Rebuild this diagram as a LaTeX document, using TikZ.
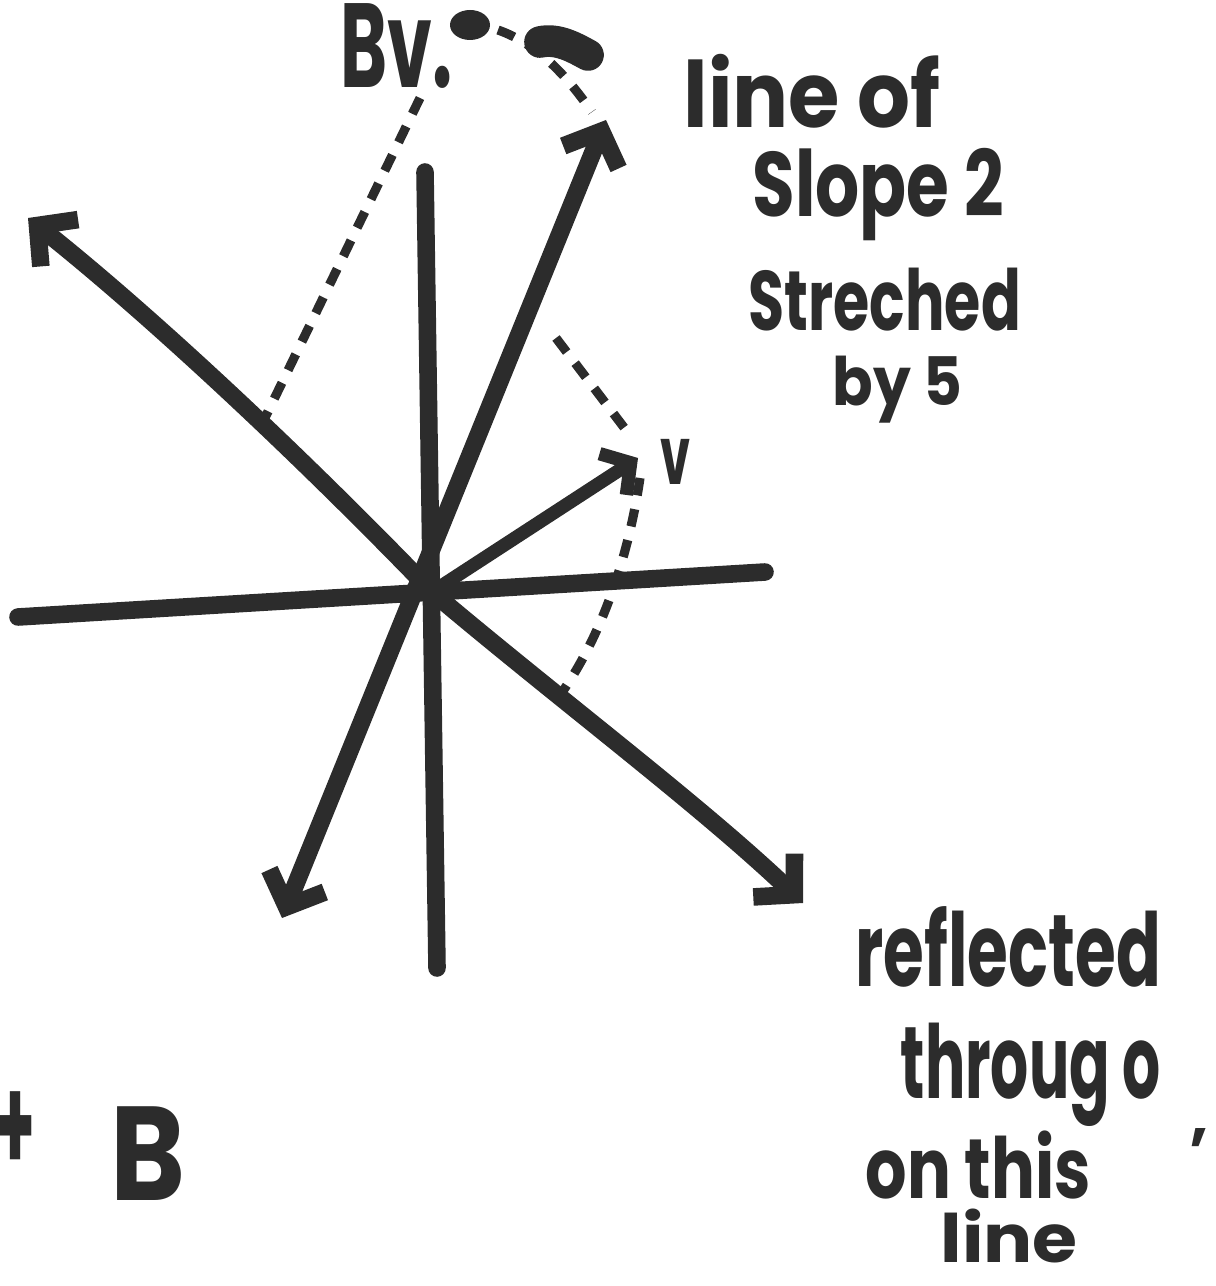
\documentclass[tikz,border=0pt]{standalone}
\usepackage{fontspec}
\setmainfont{Poppins}
\usetikzlibrary{arrows.meta}
\definecolor{markerink}{HTML}{2C2C2C}
\newcommand{\handw}[2]{\resizebox{#1}{\height}{#2}}

\begin{document}
\begin{tikzpicture}[
  x=0.01cm,
  y=-0.01cm,
  every node/.style={markerink, inner sep=0pt, anchor=base west,
                     font=\fontsize{26}{30}\selectfont\bfseries},
  stroke/.style={markerink, line width=5pt, line cap=round},
  twoway/.style={stroke, {Straight Barb[length=8pt, width=17pt]}-{Straight Barb[length=8pt, width=17pt]}},
  oneway/.style={stroke, -{Straight Barb[length=6pt, width=14pt]}},
  dots/.style={markerink, line width=2.6pt, dash pattern=on 5pt off 4pt},
  bigword/.style={font=\fontsize{34}{40}\selectfont\bfseries},
  midword/.style={font=\fontsize{24}{28}\selectfont\bfseries},
  smallword/.style={font=\fontsize{19}{22}\selectfont\bfseries}
]
  \useasboundingbox (0,0) rectangle (1215,1286);

  % ---- points ----
  \coordinate (O)     at (432,592);
  \coordinate (xl)    at (18,617);
  \coordinate (xr)    at (765,572);
  \coordinate (yt)    at (425,172);
  \coordinate (yb)    at (437,968);
  \coordinate (sl)    at (282,918);
  \coordinate (st)    at (606,120);
  \coordinate (rl)    at (28,218);
  \coordinate (rr)    at (803,903);
  \coordinate (vt)    at (638,458);
  \coordinate (bvft)  at (420,98);
  \coordinate (foot)  at (262,424);
  \coordinate (arcst) at (498,30);
  \coordinate (vtop)  at (556,338);
  \coordinate (vmid)  at (632,438);
  \coordinate (vlow)  at (640,478);
  \coordinate (vfoot) at (558,698);

  % ---- axes ----
  \draw[stroke] (xl) -- (xr);
  \draw[stroke] (yt) -- (yb);

  % ---- line of slope 2 and the reflecting line ----
  \draw[twoway] (sl) -- (st);
  \draw[twoway] (rl) .. controls (150,315) and (300,455) .. (O)
                     .. controls (560,700) and (700,805) .. (rr);

  % ---- the vector ----
  \draw[oneway, line width=3.8pt] (O) -- (vt);

  % ---- dotted helpers ----
  \draw[dots] (bvft) -- (foot);
  \draw[dots] (arcst) .. controls (540,45) and (568,78) .. (592,112);
  \draw[dots] (vtop) -- (vmid);
  \draw[dots] (vlow) .. controls (628,560) and (600,640) .. (vfoot);

  % scribbles next to Bv
  \fill[markerink] (470,25) ellipse [x radius=20, y radius=15];
  \draw[markerink, line width=9pt, line cap=round]
    (540,42) .. controls (558,38) and (575,48) .. (588,55);

  % ---- labels ----
  \node[bigword] (bv) at (340,88) {\handw{1.12cm}{Bv.}};
  \node[font=\fontsize{23}{26}\selectfont\bfseries] (vlab) at (660,485) {\handw{0.30cm}{v}};

  \node (lineof)  at (683,128) {\handw{2.57cm}{line of}};
  \node (slope)   at (752,217) {\handw{2.51cm}{Slope 2}};
  \node[midword] (strech) at (748,331) {\handw{2.72cm}{Streched}};
  \node[smallword] (byfive) at (832,406) {\handw{1.30cm}{by 5}};

  \node[font=\fontsize{29}{32}\selectfont\bfseries] (refl) at (855,986) {\handw{3.05cm}{reflected}};
  \node[font=\fontsize{29}{32}\selectfont\bfseries] (thru) at (900,1098) {\handw{2.60cm}{throug o}};
  \node[font=\fontsize{18}{20}\selectfont\bfseries] (comma) at (1190,1138) {,};
  \node[midword] (onthis) at (865,1198) {\handw{2.25cm}{on this}};
  \node[smallword] (linew) at (940,1262) {\handw{1.37cm}{line}};

  \node[font=\fontsize{38}{44}\selectfont\bfseries] (plus) at (-5,1172) {\handw{0.40cm}{+}};
  \node[font=\fontsize{38}{44}\selectfont\bfseries] (bee)  at (110,1200) {\handw{0.75cm}{B}};
\end{tikzpicture}
\end{document}
